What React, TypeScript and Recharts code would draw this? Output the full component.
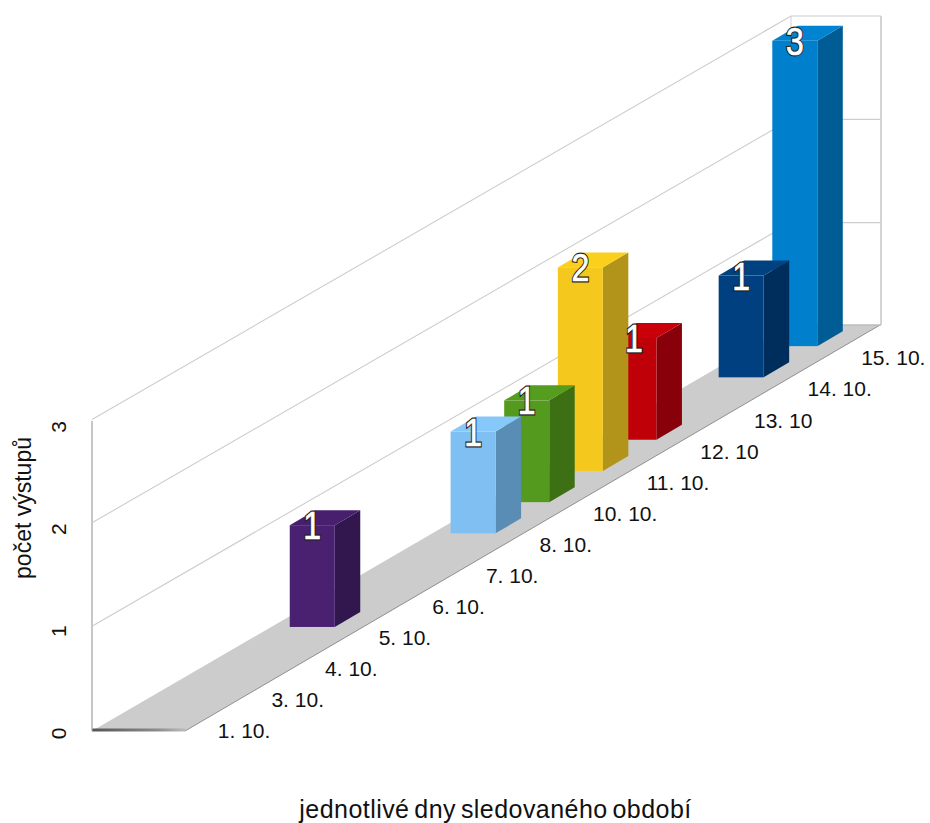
import React from 'react';
import { BarChart, Bar, XAxis, YAxis, CartesianGrid, LabelList } from 'recharts';

const categories = ['1. 10.', '3. 10.', '4. 10.', '5. 10.', '6. 10.', '7. 10.', '8. 10.', '10. 10.', '11. 10.', '12. 10', '13. 10', '14. 10.', '15. 10.'];
const performances = [0, 0, 0, 1, 0, 0, 1, 1, 2, 1, 0, 1, 3];
const frontColors = ['#4a2170', '#7fbff2', '#549a1e', '#f4c81c', '#bf0009', '#004080', '#0080cc'];
const sideColors = ['#32174e', '#5a8db5', '#3d6f14', '#b3941a', '#87000a', '#002e5c', '#005c94'];
const topColors = ['#471f6e', '#87c8fa', '#559d1e', '#fbd01d', '#c9000a', '#00417f', '#0083d1'];
const yTicks = [0, 1, 2, 3];

// Nearest category is drawn last, so it covers the ones behind it.
let colorIndex = 0;
const rows = categories
  .map((day, i) => {
    const value = performances[i];
    const tone = value > 0 ? colorIndex++ : -1;
    return { day, value, tone };
  })
  .reverse();

const FONT = '"Liberation Sans", Arial, sans-serif';
const PLOT_LEFT = 185;
const PLOT_BOTTOM = 731;
const SLOPE = 0.582;
const BACK_LEFT = 92;
const BACK_RIGHT = 791;
const WALL_RIGHT = 881;
const BACK_RISE = 405;
const HEIGHT_FACTOR = 0.985;

const lift = (cx: number) => (cx - PLOT_LEFT) * SLOPE;

function geometry(x: number, width: number, height: number) {
  const cx = x + width / 2;
  const left = cx - 82.6;
  const bottom = PLOT_BOTTOM - lift(cx) + 5.0;
  const h = height * HEIGHT_FACTOR;
  return { left, right: left + width, bottom, top: bottom - h };
}

function Bar3D(props: any) {
  const { x, width, height, payload } = props;
  if (!payload || !payload.value) return null;
  const { left, right, bottom, top } = geometry(x, width, height);
  const dx = 25.5;
  const dy = 15;
  const t = payload.tone;
  return (
    <g>
      <polygon points={`${right},${bottom} ${right + dx},${bottom - dy} ${right + dx},${top - dy} ${right},${top}`} fill={sideColors[t]} />
      <polygon points={`${left},${top} ${right},${top} ${right + dx},${top - dy} ${left + dx},${top - dy}`} fill={topColors[t]} />
      <rect x={left} y={top} width={width} height={bottom - top} fill={frontColors[t]} />
    </g>
  );
}

function BarValue(props: any) {
  const { x, width, height, value } = props;
  if (!value) return null;
  const { left, top } = geometry(x, width, height);
  const cx = left + width / 2;
  const shared = {
    transform: `translate(${cx},${top + 14}) scale(0.82,1)`,
    textAnchor: 'middle',
    fontFamily: FONT,
    fontSize: 39,
  } as const;
  return (
    <g>
      <text {...shared} fill="#222222" stroke="#222222" strokeWidth={3}>
        {value}
      </text>
      <text {...shared} fill="#ffffff" stroke="#ffffff" strokeWidth={0.7}>
        {value}
      </text>
    </g>
  );
}

function gridLine(props: any) {
  const y = props.y1;
  const isFloor = Math.abs(y - PLOT_BOTTOM) < 1;
  if (isFloor) {
    const frontRight = props.x2 - 2;
    const backY = y - BACK_RISE - 1;
    return (
      <g key={`floor-${y}`}>
        <defs>
          <linearGradient id="floorEdge" x1="0" x2="1" y1="0" y2="0">
            <stop offset="0" stopColor="#555555" />
            <stop offset="0.7" stopColor="#8c8c8c" />
            <stop offset="1" stopColor="#bbbbbb" />
          </linearGradient>
        </defs>
        <polygon points={`${BACK_LEFT},${y} ${props.x1},${y} ${frontRight},${backY} ${BACK_RIGHT},${backY}`} fill="#cccccc" />
        <line x1={props.x1} y1={y} x2={frontRight} y2={backY} stroke="#8f8f8f" strokeWidth={1} />
        <rect x={BACK_LEFT} y={y - 2.5} width={props.x1 - BACK_LEFT} height={3} fill="url(#floorEdge)" />
        <line x1={BACK_RIGHT} y1={backY} x2={WALL_RIGHT} y2={backY} stroke="#bdbdbd" strokeWidth={1.3} />
        <line x1={WALL_RIGHT} y1={backY} x2={WALL_RIGHT} y2={16} stroke="#bdbdbd" strokeWidth={1.3} />
        <line x1={BACK_LEFT} y1={y} x2={BACK_LEFT} y2={421} stroke="#a8a8a8" strokeWidth={1.3} />
        <line x1={BACK_RIGHT} y1={16} x2={BACK_RIGHT} y2={backY} stroke="#d0d0d0" strokeWidth={1} />
      </g>
    );
  }
  const backY = y - BACK_RISE;
  return (
    <polyline
      key={`wall-${y}`}
      points={`${BACK_LEFT},${y - 1.5} ${BACK_RIGHT},${backY} ${WALL_RIGHT},${backY}`}
      fill="none"
      stroke="#cdcdcd"
      strokeWidth={1.1}
    />
  );
}

function DayTick(props: any) {
  const { x, payload } = props;
  return (
    <text x={x + 6} y={PLOT_BOTTOM - (x - 211.8) * 0.58 + 7.5} textAnchor="start" fontFamily={FONT} fontSize={21} fill="#111111">
      {payload.value}
    </text>
  );
}

function CountTick(props: any) {
  const { y, payload } = props;
  const ty = y + 2.3 + (PLOT_BOTTOM - y) * 0.012;
  return (
    <text transform={`translate(66,${ty}) rotate(-90)`} textAnchor="middle" fontFamily={FONT} fontSize={21} fill="#111111">
      {payload.value}
    </text>
  );
}

const XTitle = () => (
  <text x={495.5} y={818} textAnchor="middle" fontFamily={FONT} fontSize={25} letterSpacing={0.45} wordSpacing={-2.5} fill="#111111">
    jednotlivé dny sledovaného období
  </text>
);

const YTitle = () => (
  <text transform={`translate(31,508) rotate(-90)`} textAnchor="middle" fontFamily={FONT} fontSize={23} fill="#111111">
    počet výstupů
  </text>
);

export default function App() {
  return (
    <div style={{ position: 'absolute', left: 0, top: 0, width: 930, height: 823, background: '#ffffff' }}>
      <BarChart
        width={930}
        height={823}
        data={rows}
        margin={{ top: 421, right: 48, bottom: 32, left: 125 }}
        barSize={45}
      >
        <CartesianGrid horizontal={gridLine} vertical={false} />
        <XAxis
          dataKey="day"
          reversed
          interval={0}
          height={60}
          axisLine={false}
          tickLine={false}
          tick={DayTick}
          label={{ content: XTitle }}
        />
        <YAxis
          width={60}
          domain={[0, 3]}
          ticks={yTicks}
          axisLine={false}
          tickLine={false}
          tick={CountTick}
          label={{ content: YTitle }}
        />
        <Bar dataKey="value" isAnimationActive={false} shape={Bar3D}>
          <LabelList dataKey="value" content={BarValue} />
        </Bar>
      </BarChart>
    </div>
  );
}
